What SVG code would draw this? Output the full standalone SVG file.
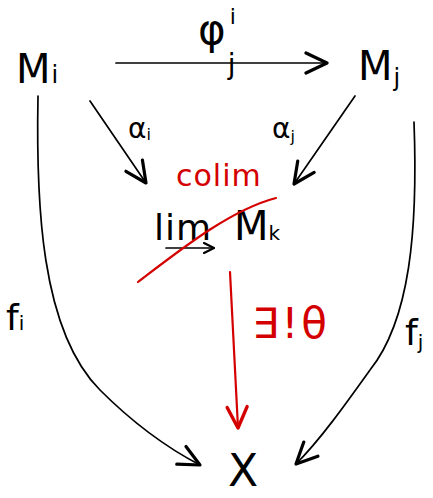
<svg xmlns="http://www.w3.org/2000/svg" width="433" height="498" viewBox="0 0 433 498">
<style>
.t{font-family:"DejaVu Sans",sans-serif;fill:#000}
.r{fill:#d40000}
.ln{fill:none;stroke:#000;stroke-width:1.7;stroke-linecap:round}
.rl{fill:none;stroke:#d40000;stroke-width:2.2;stroke-linecap:round}
</style>
<defs>
<marker id="ah" viewBox="0 0 12 12" refX="11" refY="6" markerWidth="12" markerHeight="12" markerUnits="userSpaceOnUse" orient="auto">
<path d="M1,1 L11,6 L1,11" fill="none" stroke="#000" stroke-width="2.2" stroke-linecap="round" stroke-linejoin="round"/>
</marker>
<marker id="ahb" viewBox="0 0 26 26" refX="24" refY="13" markerWidth="26" markerHeight="26" markerUnits="userSpaceOnUse" orient="auto">
<path d="M3,3 L24,13 L3,23" fill="none" stroke="#000" stroke-width="3.2" stroke-linecap="round" stroke-linejoin="round"/>
</marker>
<marker id="ahr" viewBox="0 0 26 26" refX="24" refY="13" markerWidth="26" markerHeight="26" markerUnits="userSpaceOnUse" orient="auto">
<path d="M3,3 L24,13 L3,23" fill="none" stroke="#d40000" stroke-width="3.4" stroke-linecap="round" stroke-linejoin="round"/>
</marker>
</defs>
<g id="connectors">
<line class="ln" x1="116" y1="63" x2="327" y2="63" marker-end="url(#ahb)"/>
<line class="ln" x1="90" y1="101" x2="146" y2="183" marker-end="url(#ahb)"/>
<line class="ln" x1="355" y1="96" x2="294" y2="184" marker-end="url(#ahb)"/>
<path class="ln" d="M38,96 C36,200 40,330 100,390 C140,430 175,452 200,465" marker-end="url(#ahb)"/>
<path class="ln" d="M414,122 C418,230 410,320 370,370 C345,405 320,440 296,464" marker-end="url(#ahb)"/>
<path class="rl" d="M230,272 C232,320 236,380 238,428" marker-end="url(#ahr)"/>
</g>
<g id="Mi"><text class="t" x="16" y="83" font-size="40">M<tspan font-size="24" dx="1">i</tspan></text></g>
<g id="Mj"><text class="t" x="358" y="80" font-size="40">M<tspan font-size="24" dy="6" dx="1">j</tspan></text></g>
<g id="phi"><text class="t" x="198" y="44" font-size="42">φ<tspan font-size="22" dy="-20" dx="4">i</tspan><tspan font-size="28" dy="50" dx="-8">j</tspan></text></g>
<g id="alphai"><text class="t" x="128" y="138" font-size="28">α<tspan font-size="16" dy="2">i</tspan></text></g>
<g id="alphaj"><text class="t" x="272" y="138" font-size="28">α<tspan font-size="16" dy="4">j</tspan></text></g>
<g id="colim"><text class="t r" x="176" y="186" font-size="30" letter-spacing="1">colim</text></g>
<g id="limMk">
<text class="t" x="154" y="240" font-size="36" letter-spacing="1">lim</text>
<text class="t" x="234" y="240" font-size="40">M<tspan font-size="20">k</tspan></text>
<line class="ln" x1="166" y1="248" x2="214" y2="248" marker-end="url(#ah)"/>
<path class="rl" d="M138,282 C180,250 230,210 276,198"/>
</g>
<g id="theta"><text class="t r" x="252" y="338" font-size="42" letter-spacing="3">∃!θ</text></g>
<g id="X"><text class="t" x="228" y="486" font-size="44">X</text></g>
<g id="fi"><text class="t" x="6" y="330" font-size="36">f<tspan font-size="20">i</tspan></text></g>
<g id="fj"><text class="t" x="405" y="345" font-size="36">f<tspan font-size="20" dy="4">j</tspan></text></g>
</svg>
